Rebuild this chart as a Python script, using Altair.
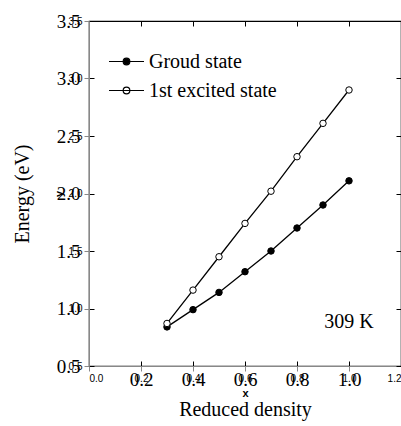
import altair as alt
import pandas as pd

density = [0.3, 0.4, 0.5, 0.6, 0.7, 0.8, 0.9, 1.0]
ground = [0.84, 0.99, 1.14, 1.32, 1.50, 1.70, 1.90, 2.11]
excited = [0.87, 1.16, 1.45, 1.74, 2.02, 2.32, 2.61, 2.90]
series_names = ["Groud state", "1st excited state"]
x_ticks = [0.2, 0.4, 0.6, 0.8, 1.0]
y_ticks = [0.5, 1.0, 1.5, 2.0, 2.5, 3.0, 3.5]
note_text = ["309 K"]
note_x = [1.0]
note_y = [0.83]

rows = []
for name, vals in zip(series_names, [ground, excited]):
    for d, v in zip(density, vals):
        rows.append({"density": d, "energy": v, "series": name})
df = pd.DataFrame(rows)
note_df = pd.DataFrame({"x": note_x, "y": note_y, "t": note_text})

FONT = "Liberation Serif"
xscale = alt.Scale(domain=[0, 1.2], nice=False)
yscale = alt.Scale(domain=[0.5, 3.5], nice=False)

legend_path = "M-1,0H1M-0.19,0A0.19,0.19 0 1,1 0.19,0A0.19,0.19 0 1,1 -0.19,0Z"

lines = alt.Chart(df).mark_line(color="black", strokeWidth=1.3).encode(
    x=alt.X("density:Q", scale=xscale,
            axis=alt.Axis(orient="bottom", values=x_ticks, format=".1f", title="Reduced density",
                          offset=-5, tickSize=5, domain=False, grid=False, labelPadding=4,
                          titlePadding=10, labelFont=FONT, titleFont=FONT, labelFontSize=19,
                          titleFontSize=20, labelColor="black", titleColor="black",
                          tickColor="black", titleFontWeight="normal")),
    y=alt.Y("energy:Q", scale=yscale,
            axis=alt.Axis(orient="left", values=y_ticks, format=".1f", title="Energy (eV)",
                          offset=-5, tickSize=5, domain=False, grid=False, labelPadding=9,
                          titlePadding=24, labelFont=FONT, titleFont=FONT, labelFontSize=19,
                          titleFontSize=20, labelColor="black", titleColor="black",
                          tickColor="black", titleFontWeight="normal")),
    detail="series:N",
)

points = alt.Chart(df).mark_point(filled=False, stroke="black", strokeWidth=1, size=42, opacity=1, shape="circle").encode(
    x=alt.X("density:Q", scale=xscale,
            axis=alt.Axis(orient="top", values=x_ticks, labels=False, title=None,
                          offset=-5, tickSize=5, domain=False, grid=False, tickColor="black")),
    y=alt.Y("energy:Q", scale=yscale,
            axis=alt.Axis(orient="right", values=y_ticks, labels=False, title=None,
                          offset=-5, tickSize=5, domain=False, grid=False, tickColor="black")),
    fill=alt.Fill("series:N", sort=series_names,
                  scale=alt.Scale(domain=series_names, range=["black", "white"]),
                  legend=alt.Legend(title=None, orient="none", legendX=19, legendY=22,
                                    symbolType=legend_path, symbolSize=1225,
                                    symbolStrokeColor="black", symbolStrokeWidth=1.2,
                                    labelFont=FONT, labelFontSize=20, labelColor="black",
                                    labelOffset=4, rowPadding=0, padding=0)),
)

note = alt.Chart(note_df).mark_text(font=FONT, fontSize=20, color="black", align="center",
                                    baseline="alphabetic").encode(
    x=alt.X("x:Q", scale=xscale),
    y=alt.Y("y:Q", scale=yscale),
    text="t:N",
)

chart = alt.layer(lines, points, note).properties(
    width=312, height=345,
    autosize=alt.AutoSizeParams(type="none"),
    padding={"left": 89, "top": 21, "right": 0, "bottom": 60},
    background="white",
).configure_view(stroke="black", strokeWidth=1.2)

chart.save("out.html", embed_options={"renderer": "svg", "actions": False})
